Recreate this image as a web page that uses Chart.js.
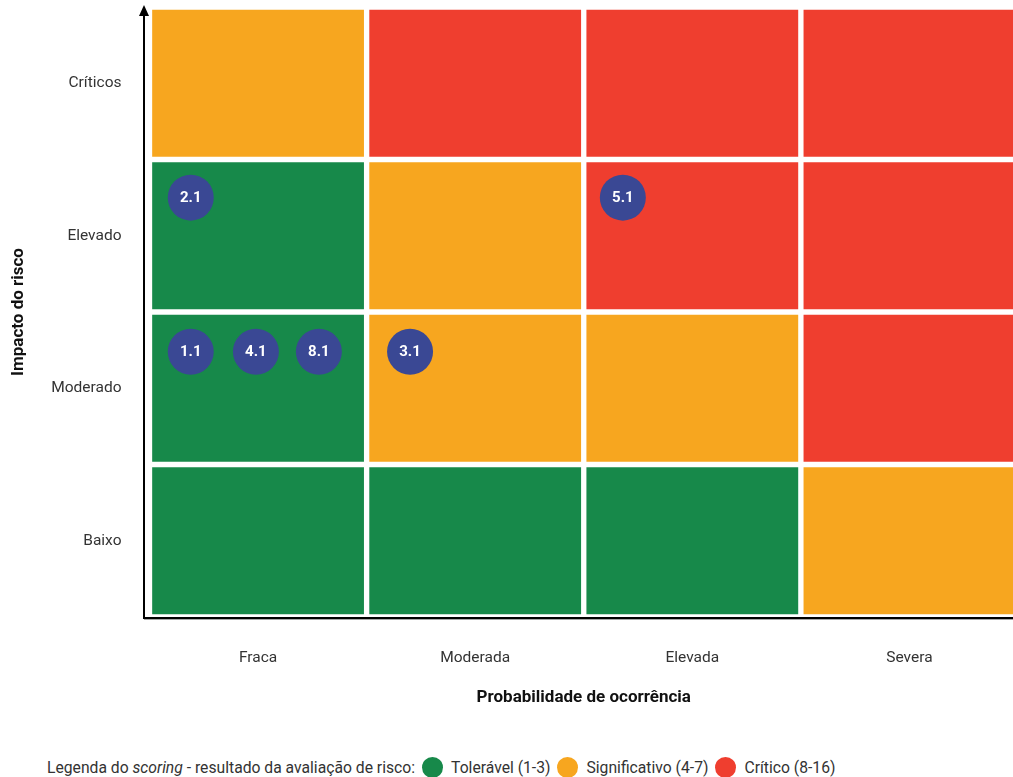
<!DOCTYPE html>
<html>
<head>
<meta charset="utf-8">
<script src="https://cdn.jsdelivr.net/npm/chart.js@4.4.1/dist/chart.umd.min.js"></script>
<style>
  html, body { margin: 0; padding: 0; overflow: hidden; background: #fff; width: 1013px; height: 777px; }
  #wrap { position: absolute; left: 0; top: 0; }
  #legend { position: absolute; left: 47px; top: 756px; height: 22px; font: 15.7px Roboto, sans-serif; color: #333;
            white-space: nowrap; display: flex; align-items: center; }
  #legend .dot { display: inline-block; width: 21px; height: 21px; border-radius: 50%; margin: 0 8px 0 7px; }
</style>
</head>
<body>
<div id="wrap"><canvas id="riskChart" width="1018" height="720"></canvas></div>
<div id="legend"></div>
<script>
// categories
const probLabels = ['Fraca', 'Moderada', 'Elevada', 'Severa'];
const impactLabels = ['Baixo', 'Moderado', 'Elevado', 'Críticos']; // bottom to top

// scoring level per cell (T = tolerável, S = significativo, C = crítico), one row per impact
const rowBaixo = ['T', 'T', 'T', 'S'];
const rowModerado = ['T', 'S', 'S', 'C'];
const rowElevado = ['T', 'S', 'C', 'C'];
const rowCriticos = ['S', 'C', 'C', 'C'];

// risks placed on the matrix
const riskIds = ['2.1', '5.1', '1.1', '4.1', '8.1', '3.1'];
const riskProb = [0.19, 2.18, 0.19, 0.49, 0.78, 1.2];
const riskImpact = [2.75, 2.75, 1.74, 1.74, 1.74, 1.74];

// legend
const levelKeys = ['T', 'S', 'C'];
const levelNames = ['Tolerável (1-3)', 'Significativo (4-7)', 'Crítico (8-16)'];

const levelColors = { T: '#17894a', S: '#f7a61f', C: '#ef3e2f' };
const riskColor = '#3a4894';

const rows = [rowBaixo, rowModerado, rowElevado, rowCriticos];

const cellSets = rows.map((row, r) => ({
  type: 'bar',
  data: row.map((lvl, c) => ({ x: c + 0.5, y: [r, r + 1] })),
  backgroundColor: row.map(l => levelColors[l]),
  borderColor: '#ffffff',
  borderWidth: 3,
  borderSkipped: false,
  grouped: false,
  categoryPercentage: 1,
  barPercentage: 1,
  order: 1
}));

const riskSet = {
  type: 'scatter',
  data: riskIds.map((id, i) => ({ x: riskProb[i], y: riskImpact[i] })),
  pointRadius: 23,
  pointHoverRadius: 23,
  backgroundColor: riskColor,
  borderWidth: 0,
  order: 0
};

// arrows for the two axes
const axisArrows = {
  id: 'axisArrows',
  afterDraw(chart) {
    const { ctx, chartArea } = chart;
    const ax = chartArea.left - 5.5;
    const ay = chartArea.bottom + 1;
    ctx.save();
    ctx.strokeStyle = '#000';
    ctx.lineWidth = 2;
    ctx.beginPath();
    ctx.moveTo(ax, ay + 1);
    ctx.lineTo(ax, chartArea.top + 6);
    ctx.stroke();
    ctx.fillStyle = '#000';
    ctx.beginPath();
    ctx.moveTo(ax, chartArea.top - 2);
    ctx.lineTo(ax - 5, chartArea.top + 9);
    ctx.lineTo(ax + 5, chartArea.top + 9);
    ctx.closePath();
    ctx.fill();
    ctx.beginPath();
    ctx.moveTo(ax - 1, ay);
    ctx.lineTo(chart.width, ay);
    ctx.stroke();
    ctx.strokeStyle = 'rgba(0,0,0,0.35)';
    ctx.lineWidth = 1;
    ctx.beginPath();
    ctx.moveTo(ax, ay + 1.5);
    ctx.lineTo(chart.width, ay + 1.5);
    ctx.stroke();
    ctx.restore();
  }
};

// ids written inside the risk circles
const riskLabels = {
  id: 'riskLabels',
  afterDatasetsDraw(chart) {
    const meta = chart.getDatasetMeta(cellSets.length);
    const { ctx } = chart;
    ctx.save();
    ctx.fillStyle = '#fff';
    ctx.font = 'bold 15px Roboto, sans-serif';
    ctx.textAlign = 'center';
    ctx.textBaseline = 'middle';
    meta.data.forEach((pt, i) => ctx.fillText(riskIds[i], pt.x, pt.y + 1));
    ctx.restore();
  }
};

new Chart(document.getElementById('riskChart'), {
  type: 'bar',
  data: { datasets: [...cellSets, riskSet] },
  options: {
    responsive: false,
    animation: false,
    layout: { autoPadding: false, padding: { top: 7, left: 0, right: 0, bottom: 0 } },
    plugins: { legend: { display: false }, tooltip: { enabled: false } },
    scales: {
      x: {
        type: 'linear',
        min: 0,
        max: 4,
        offset: false,
        grid: { display: false, drawTicks: false, offset: false },
        border: { display: false },
        afterBuildTicks: s => { s.ticks = probLabels.map((l, i) => ({ value: i + 0.5 })); },
        afterFit: s => { s.height = 103; s.paddingLeft = 0; s.paddingRight = 0; },
        ticks: {
          padding: 32,
          color: '#333',
          font: { family: 'Roboto', size: 15.5 },
          callback: v => probLabels[Math.floor(v)]
        },
        title: {
          display: true,
          text: 'Probabilidade de ocorrência',
          color: '#111',
          font: { family: 'Roboto', size: 17, weight: 'bold' },
          padding: { top: 0, bottom: 12 }
        }
      },
      y: {
        type: 'linear',
        min: 0,
        max: 4,
        grid: { display: false, drawTicks: false },
        border: { display: false },
        afterBuildTicks: s => { s.ticks = impactLabels.map((l, i) => ({ value: i + 0.5 })); },
        afterFit: s => { s.width = 149.5; s.paddingTop = 0; s.paddingBottom = 0; },
        ticks: {
          padding: 28,
          color: '#333',
          font: { family: 'Roboto', size: 15.5 },
          callback: v => impactLabels[Math.floor(v)]
        },
        title: {
          display: true,
          text: 'Impacto do risco',
          color: '#111',
          font: { family: 'Roboto', size: 17, weight: 'bold' },
          padding: { top: 9, bottom: 0 }
        }
      }
    }
  },
  plugins: [axisArrows, riskLabels]
});

// legend row under the chart
const legend = document.getElementById('legend');
legend.innerHTML = 'Legenda do&nbsp;<i>scoring</i>&nbsp;- resultado da avaliação de risco:' +
  levelKeys.map((k, i) => '<span class="dot" style="background:' + levelColors[k] + '"></span>' + levelNames[i]).join('');
</script>
</body>
</html>
